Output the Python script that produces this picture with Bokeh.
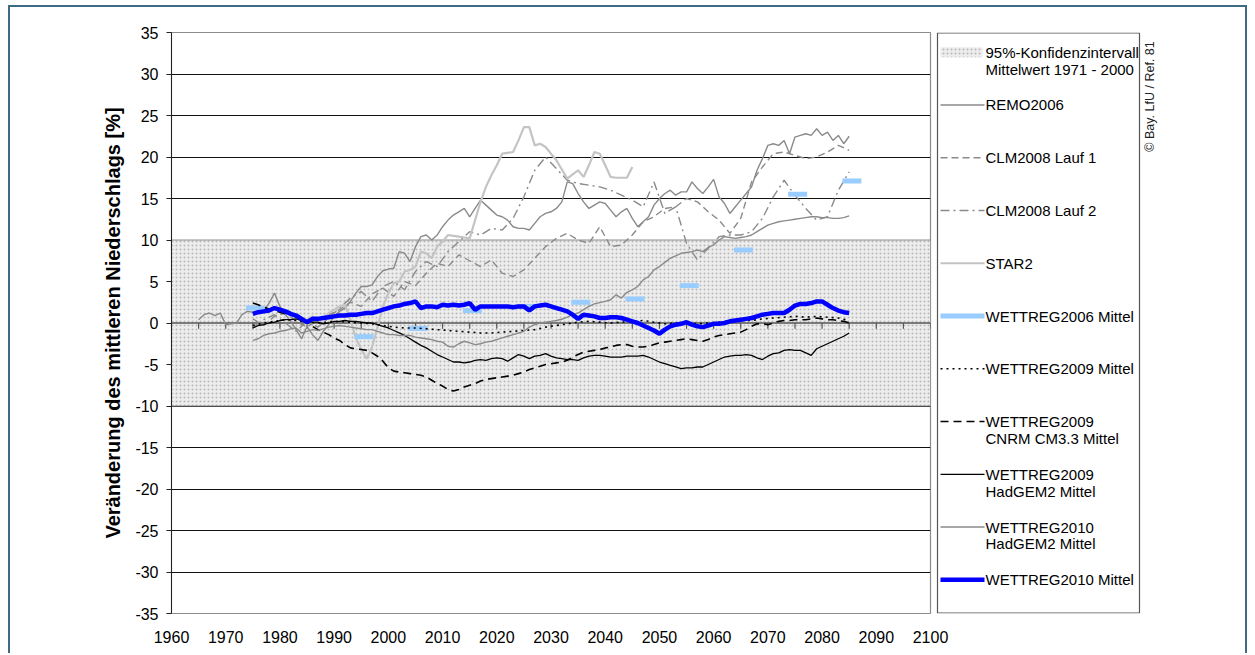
import numpy as np
from bokeh.plotting import figure
from bokeh.layouts import row
from bokeh.models import Range1d, FixedTicker
from bokeh.embed import file_html
from bokeh.resources import INLINE
from bokeh.core.properties import value

FONT = "Liberation Sans"

# ---------------- data ----------------
x_tick_labels = ["1960", "1970", "1980", "1990", "2000", "2010", "2020", "2030",
                 "2040", "2050", "2060", "2070", "2080", "2090", "2100"]
y_tick_labels = ["-35", "-30", "-25", "-20", "-15", "-10", "-5", "0",
                 "5", "10", "15", "20", "25", "30", "35"]
conf_low, conf_high = -10, 10   # 95%-Konfidenzintervall Mittelwert 1971-2000

remo_years = list(range(1965, 2086))
remo = [0.4, 1.0, 1.2, 0.9, 1.2, -0.2, -0.1, 0.0, 1.0, 1.4,
        1.3, 1.2, 1.5, 2.4, 3.6, 2.0, 1.0, 0.2, -0.8, -1.9,
        -0.4, -1.4, -2.1, -1.0, -0.2, 0.8, 1.4, 1.8, 2.6, 3.6,
        4.4, 4.4, 4.6, 5.6, 6.3, 6.5, 6.6, 8.6, 8.4, 7.4,
        9.2, 10.4, 10.6, 10.0, 10.6, 11.6, 12.4, 13.0, 13.4, 13.8,
        12.8, 13.8, 14.8, 14.2, 13.6, 13.0, 12.8, 12.4, 11.6, 11.4,
        11.4, 11.2, 12.0, 12.8, 13.2, 13.4, 13.8, 14.6, 17.0, 16.8,
        15.6, 14.6, 13.8, 14.2, 14.6, 14.4, 13.6, 12.8, 13.4, 13.8,
        12.6, 11.6, 12.2, 12.8, 14.2, 15.0, 15.6, 16.0, 15.4, 15.8,
        15.8, 17.0, 16.2, 15.6, 16.4, 17.3, 15.2, 14.4, 13.2, 14.0,
        14.8, 15.6, 16.4, 18.4, 19.8, 21.4, 21.6, 21.4, 22.0, 20.4,
        22.4, 22.6, 22.8, 22.6, 23.4, 22.6, 23.0, 22.0, 22.6, 21.6, 22.5]

clm1_years = list(range(1975, 2086, 2))
clm1 = [0.5, -0.3, 0.8, 1.2, 0.2, -0.5, 0.4, 1.0, 1.6, 2.5,
        2.0, 3.5, 4.2, 3.2, 5.0, 4.5, 6.0, 7.2, 6.8, 8.2,
        7.5, 6.8, 7.6, 6.0, 5.6, 6.4, 7.8, 9.2, 10.2, 10.8,
        10.0, 9.6, 11.6, 9.2, 9.4, 10.6, 12.2, 12.8, 13.8, 14.0,
        15.0, 14.6, 13.4, 12.4, 10.8, 12.6, 17.0, 18.8, 20.4, 20.6,
        20.2, 19.8, 20.0, 20.6, 21.4, 20.8]

clm2_years = list(range(1975, 2086, 2))
clm2 = [-0.5, 0.4, 1.0, 0.0, -1.0, 0.2, -0.5, 0.6, 1.8, 3.0,
        3.8, 2.6, 4.4, 5.0, 4.0, 6.2, 7.4, 6.8, 8.6, 9.8,
        11.0, 10.6, 11.4, 11.2, 12.6, 15.2, 18.4, 20.0, 18.6, 17.2,
        16.8, 16.6, 16.4, 16.0, 15.4, 14.8, 14.0, 17.0, 13.2, 14.0,
        9.6, 7.6, 9.0, 10.4, 10.6, 10.6, 11.0, 12.6, 15.2, 17.2,
        15.4, 13.8, 12.4, 12.8, 16.0, 18.2]

star2_years = list(range(1985, 2046))
star2 = [0.4, 0.8, 0.2, 0.6, 1.2, 1.6, 2.0, 2.2, 0.4, -1.8,
         -3.2, -4.3, -2.9, -0.5, 2.0, 3.6, 4.8, 5.0, 6.2, 6.4,
         6.8, 8.6, 8.4, 7.8, 9.2, 9.8, 10.6, 10.5, 10.4, 10.3,
         10.2, 12.4, 14.6, 16.4, 17.8, 19.0, 20.4, 20.5, 20.6, 22.0,
         23.6, 23.6, 21.4, 21.6, 21.2, 20.4, 19.6, 18.5, 17.4, 17.9,
         18.4, 17.6, 19.0, 20.6, 20.4, 19.0, 17.6, 17.5, 17.5, 17.5, 18.8]

w06_years = [1975.5, 1995.5, 2005.5, 2015.5, 2025.5, 2035.5, 2045.5,
             2055.5, 2065.5, 2075.5, 2085.5]
w06 = [1.8, -1.65, -0.65, 1.5, 2.0, 2.5, 2.9, 4.5, 8.8, 15.5, 17.1]

w09_years = list(range(1975, 2086, 2))
w09 = [-0.3, 0.0, 0.2, 0.4, 0.3, 0.1, 0.0, 0.1, 0.2, 0.1,
       0.0, -0.1, -0.3, -0.5, -0.6, -0.6, -0.7, -0.8, -0.9, -1.0,
       -1.1, -1.2, -1.2, -1.1, -1.0, -0.9, -0.8, -0.5, -0.3, -0.1,
       0.1, 0.2, 0.1, 0.0, 0.1, 0.2, 0.3, 0.1, -0.1, 0.0,
       0.1, -0.1, 0.0, 0.1, 0.2, 0.3, 0.3, 0.5, 0.6, 0.7,
       0.8, 0.7, 0.8, 0.7, 0.6, 0.3]

cnrm_years = list(range(1975, 2086))
cnrm = [2.4, 2.2, 1.9, 1.7, 1.5, 1.3, 1.1, 1.0, 0.7, 0.4,
        0.1, -0.4, -0.8, -1.1, -1.4, -1.8, -2.1, -2.6, -3.0, -3.1,
        -3.2, -3.3, -3.6, -4.0, -4.6, -5.4, -5.8, -5.9, -6.0, -6.1,
        -6.2, -6.3, -6.5, -6.9, -7.3, -7.6, -8.0, -8.2, -8.0, -7.7,
        -7.5, -7.3, -7.0, -6.8, -6.7, -6.6, -6.5, -6.4, -6.3, -6.1,
        -5.9, -5.6, -5.4, -5.2, -5.0, -4.9, -4.8, -4.7, -4.5, -4.1,
        -3.8, -3.5, -3.4, -3.3, -3.2, -3.0, -2.9, -2.7, -2.6, -2.6,
        -2.8, -2.9, -2.9, -2.8, -2.6, -2.4, -2.3, -2.2, -2.1, -2.0,
        -1.9, -2.0, -2.1, -2.2, -2.0, -1.7, -1.5, -1.4, -1.3, -1.2,
        -1.1, -0.8, -0.4, -0.1, -0.1, -0.2, 0.0, 0.2, 0.3, 0.3,
        0.4, 0.4, 0.4, 0.5, 0.6, 0.5, 0.4, 0.4, 0.3, 0.2, 0.0]

had09_years = list(range(1975, 2086))
had09 = [-0.6, -0.3, -0.2, 0.0, 0.1, 0.3, 0.4, 0.4, 0.5, 0.3,
         0.2, 0.1, 0.1, -0.1, 0.0, 0.2, 0.2, 0.3, 0.2, 0.2,
         0.1, 0.0, 0.0, -0.2, -0.4, -0.6, -0.9, -1.2, -1.5, -1.9,
         -2.3, -2.7, -3.0, -3.4, -3.8, -4.1, -4.4, -4.7, -4.7, -4.8,
         -4.7, -4.5, -4.4, -4.5, -4.3, -4.2, -4.3, -4.6, -4.2, -3.8,
         -4.0, -4.3, -4.0, -3.9, -3.7, -4.0, -4.2, -4.3, -4.4, -4.4,
         -4.5, -4.2, -4.0, -3.9, -3.9, -4.0, -4.1, -4.1, -4.1, -4.0,
         -4.0, -4.0, -3.9, -4.1, -4.4, -4.7, -4.9, -5.1, -5.3, -5.5,
         -5.4, -5.4, -5.3, -5.3, -5.0, -4.7, -4.4, -4.1, -4.0, -3.9,
         -3.9, -3.8, -3.9, -4.2, -4.4, -4.0, -3.7, -3.6, -3.3, -3.2,
         -3.3, -3.3, -3.6, -3.9, -3.1, -2.8, -2.5, -2.2, -1.9, -1.6, -1.2]

had10_years = list(range(1975, 2086))
had10 = [-2.1, -1.9, -1.5, -1.3, -1.2, -1.0, -0.9, -0.7, -0.6, -1.2,
         -1.0, -0.8, -0.9, -0.7, -0.5, -0.4, -0.3, -0.4, -0.5, -0.6,
         -0.7, -0.8, -0.8, -1.0, -1.2, -1.4, -1.4, -1.5, -1.5, -1.5,
         -1.7, -1.8, -1.9, -2.0, -2.2, -2.3, -2.8, -2.9, -2.5, -2.2,
         -2.4, -2.6, -2.5, -2.3, -2.2, -2.0, -1.8, -1.6, -1.4, -1.2,
         -1.0, -0.5, -0.2, 0.0, 0.1, 0.2, 0.3, 0.45, 0.7, 1.0,
         1.2, 1.6, 2.0, 2.3, 2.45, 2.6, 2.8, 3.4, 3.0, 3.7,
         4.0, 4.4, 5.2, 5.6, 6.4, 6.8, 7.3, 7.8, 8.1, 8.4,
         8.5, 8.6, 8.8, 8.6, 9.1, 9.4, 10.0, 10.4, 10.3, 10.2,
         10.3, 10.4, 10.6, 11.0, 11.4, 11.8, 12.0, 12.2, 12.3, 12.4,
         12.5, 12.6, 12.7, 12.8, 12.8, 12.7, 12.7, 12.6, 12.6, 12.7, 12.9]

w10_years = list(range(1975, 2086))
w10 = [1.1, 1.3, 1.4, 1.5, 1.8, 1.6, 1.4, 1.1, 0.9, 0.5,
       0.1, 0.5, 0.5, 0.6, 0.7, 0.8, 0.9, 0.9, 1.0, 1.0,
       1.1, 1.2, 1.2, 1.4, 1.6, 1.8, 2.0, 2.1, 2.3, 2.4,
       2.6, 1.8, 2.0, 2.0, 1.9, 2.2, 2.1, 2.2, 2.1, 2.2,
       2.4, 1.6, 2.0, 2.0, 2.0, 2.0, 2.0, 2.0, 1.9, 2.0,
       2.0, 1.5, 2.0, 2.1, 2.2, 2.0, 1.8, 1.6, 1.4, 1.0,
       0.5, 1.0, 0.9, 0.8, 0.6, 0.6, 0.7, 0.7, 0.6, 0.4,
       0.2, 0.0, -0.3, -0.6, -0.9, -1.3, -0.8, -0.4, -0.2, -0.1,
       0.1, -0.2, -0.4, -0.5, -0.3, -0.1, -0.1, 0.0, 0.2, 0.3,
       0.4, 0.5, 0.6, 0.8, 1.0, 1.1, 1.2, 1.2, 1.2, 1.6,
       2.1, 2.3, 2.3, 2.4, 2.6, 2.6, 2.2, 1.8, 1.5, 1.3, 1.2]

legend_labels = ["95%-Konfidenzintervall\nMittelwert 1971 - 2000", "REMO2006",
                 "CLM2008 Lauf 1", "CLM2008 Lauf 2", "STAR2", "WETTREG2006 Mittel",
                 "WETTREG2009 Mittel", "WETTREG2009\nCNRM CM3.3 Mittel",
                 "WETTREG2009\nHadGEM2 Mittel", "WETTREG2010\nHadGEM2 Mittel",
                 "WETTREG2010 Mittel"]
y_label = "Veränderung des mittleren Niederschlags [%]"
credit = "© Bay. LfU / Ref. 81"

# ---------------- styles ----------------
band_style = dict(fill_color="#ededed", hatch_pattern="dot", hatch_color="#b8b8b8",
                  hatch_scale=4, hatch_weight=1)
line_styles = [
    None,
    dict(line_color="#8a8a8a", line_width=1.4),
    dict(line_color="#8a8a8a", line_width=1.4, line_dash="7 4"),
    dict(line_color="#8a8a8a", line_width=1.4, line_dash="9 4 2 4"),
    dict(line_color="#c4c4c4", line_width=2.2),
    dict(line_color="#99ccff", line_width=5),
    dict(line_color="black", line_width=1.6, line_dash="2 4"),
    dict(line_color="black", line_width=1.6, line_dash="8 5"),
    dict(line_color="black", line_width=1.3),
    dict(line_color="#8a8a8a", line_width=1.4),
    dict(line_color="#0000ff", line_width=4.5),
]

x_ticks = [int(s) for s in x_tick_labels]
y_ticks = [int(s) for s in y_tick_labels]
x0, x1 = x_ticks[0], x_ticks[-1]

# ---------------- main chart ----------------
H = 646
TOP, FRAME_H = 25, 581
OVER = 22                     # extra room right of the frame for the last x label
p = figure(width=923 + OVER, height=H, x_range=Range1d(x0, x1),
           y_range=Range1d(y_ticks[0], y_ticks[-1]),
           output_backend="svg", toolbar_location=None,
           min_border_left=161, min_border_right=3 + OVER, min_border_top=TOP,
           min_border_bottom=H - TOP - FRAME_H)
p.background_fill_color = "white"
p.border_fill_color = "white"
p.outline_line_color = "#8c8c8c"
p.outline_line_width = 1.2

p.xgrid.grid_line_color = None
p.ygrid.ticker = FixedTicker(ticks=y_ticks)
p.ygrid.grid_line_color = "#111111"
p.ygrid.grid_line_width = 1

p.xaxis.ticker = FixedTicker(ticks=x_ticks)
p.xaxis.major_label_overrides = {t: s for t, s in zip(x_ticks, x_tick_labels)}
p.xaxis.axis_line_color = None
p.xaxis.major_tick_line_color = None
p.xaxis.minor_tick_line_color = None
p.xaxis.major_tick_out = 0
p.xaxis.major_label_standoff = 17
p.xaxis.major_label_text_font = FONT
p.xaxis.major_label_text_font_size = "16px"
p.xaxis.major_label_text_color = "black"

p.yaxis.ticker = FixedTicker(ticks=y_ticks)
p.yaxis.major_label_overrides = {t: s for t, s in zip(y_ticks, y_tick_labels)}
p.yaxis.axis_line_color = "#222222"
p.yaxis.major_tick_line_color = "#222222"
p.yaxis.minor_tick_line_color = None
p.yaxis.major_tick_out = 5
p.yaxis.major_tick_in = 0
p.yaxis.major_label_standoff = 8
p.yaxis.major_label_text_font = FONT
p.yaxis.major_label_text_font_size = "16px"
p.yaxis.major_label_text_color = "black"
p.yaxis.axis_label = y_label
p.yaxis.axis_label_text_font = FONT
p.yaxis.axis_label_text_font_style = "bold"
p.yaxis.axis_label_text_font_size = "20px"
p.yaxis.axis_label_text_color = "black"
p.yaxis.axis_label_standoff = 8

# confidence band
p.quad(left=[x0], right=[x1], bottom=[conf_low], top=[conf_high],
       line_color="#8c8c8c", line_width=1, **band_style)

# zero axis line with 5-year ticks
tick_years = np.arange(x0, x1 + 1, 5)
p.segment(x0=[x0], y0=[0], x1=[x1], y1=[0], line_color="#555555", line_width=1.4)
p.segment(x0=tick_years, y0=np.zeros(len(tick_years)), x1=tick_years,
          y1=np.full(len(tick_years), -0.7), line_color="#555555", line_width=1.2)

for xs, ys, k in [(remo_years, remo, 1), (clm1_years, clm1, 2),
                  (clm2_years, clm2, 3), (star2_years, star2, 4)]:
    p.line(xs, ys, **line_styles[k])

p.scatter(w06_years, w06, marker="dash", size=19, **line_styles[5])

for xs, ys, k in [(w09_years, w09, 6), (cnrm_years, cnrm, 7), (had09_years, had09, 8),
                  (had10_years, had10, 9), (w10_years, w10, 10)]:
    p.line(xs, ys, **line_styles[k])

# ---------------- legend panel (transparent overlay, page-pixel coordinates) ----------------
LW = 312
PAGE_TOP = 7                      # page y of the figures' top edge
frame_top_px = PAGE_TOP + TOP
frame_bot_px = frame_top_px + FRAME_H
leg = figure(width=LW, height=H, x_range=Range1d(0, LW),
             y_range=Range1d(frame_bot_px, frame_top_px),
             output_backend="svg", toolbar_location=None,
             x_axis_location=None, y_axis_location=None,
             min_border_left=0, min_border_right=0, min_border_top=TOP,
             min_border_bottom=H - TOP - FRAME_H,
             styles={"margin-left": f"-{OVER}px"})
leg.grid.visible = False
leg.outline_line_color = None
leg.background_fill_color = None
leg.border_fill_color = None

box_l, box_r, box_t, box_b = 4, 206, 32.5, 612.5
leg.quad(left=[box_l], right=[box_r], top=[box_t], bottom=[box_b],
         fill_color="white", line_color="#555555", line_width=1.2)

first_y, step = 51.7, 52.76
sample_x0, sample_x1, text_x = 7, 51, 52
for i, lab in enumerate(legend_labels):
    yy = first_y + i * step
    if i == 0:
        leg.quad(left=[sample_x0], right=[sample_x1 - 2], top=[yy - 5], bottom=[yy + 5],
                 line_color=None, **band_style)
    else:
        leg.segment(x0=[sample_x0], y0=[yy], x1=[sample_x1], y1=[yy], **line_styles[i])
    for j, part in enumerate(lab.split("\n")):
        leg.text(x=[text_x], y=[yy + j * 16.8], text=[part], text_font=value(FONT),
                 text_font_size="15px", text_baseline="middle", text_align="left",
                 text_color="black")

leg.text(x=[216], y=[96], text=[credit], angle=np.pi / 2, text_font=value(FONT),
         text_font_size="12.5px", text_baseline="middle", text_align="center",
         text_color="#222222")

border = "2px solid #3e6b83"
lay = row(p, leg, styles={"border-top": border, "border-left": border,
                          "border-right": border, "margin-left": "8px",
                          "margin-top": "5px"})

open("out.html", "w").write(file_html(lay, INLINE))
